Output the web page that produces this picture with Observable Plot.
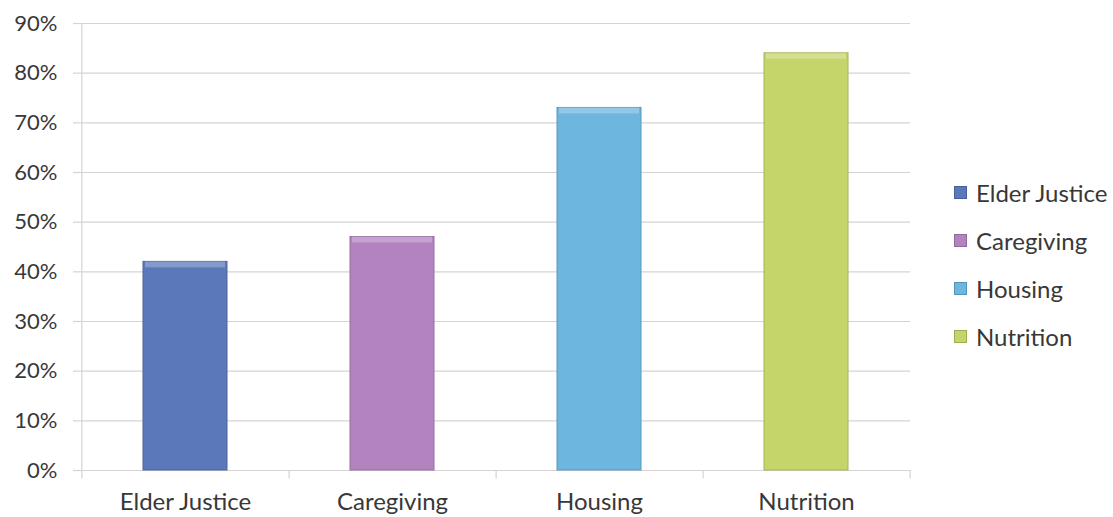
<!DOCTYPE html>
<html>
<head>
<meta charset="utf-8">
<script src="https://cdn.jsdelivr.net/npm/d3@7"></script>
<script src="https://cdn.jsdelivr.net/npm/@observablehq/plot@0.6"></script>
<style>
  html, body { margin: 0; padding: 0; background: #fff; }
  #wrap { position: relative; width: 1113px; height: 517px; overflow: hidden; font-family: Lato, "Open Sans", sans-serif; }
  #legend { position: absolute; left: 954px; top: 168px; }
  .item { display: flex; align-items: center; height: 48px; font-size: 24px; color: #383838; }
  .sw { width: 13px; height: 13px; margin-right: 9px; box-sizing: border-box; }
</style>
</head>
<body>
<div id="wrap"><div id="chart"></div><div id="legend"></div></div>
<script>
const categories = ["Elder Justice", "Caregiving", "Housing", "Nutrition"];
const values = [0.42, 0.47, 0.73, 0.84];
const colors = ["#5b78ba", "#b283bf", "#6cb6df", "#c6d56a"];
const yTicks = [0, 0.1, 0.2, 0.3, 0.4, 0.5, 0.6, 0.7, 0.8, 0.9];

const data = categories.map((c, i) => ({category: c, value: values[i], color: colors[i]}));

const W = 1113, H = 517, ML = 81, MR = 203, MT = 23, MB = 47;
const bw = (W - ML - MR) / categories.length;
const grid = "#d8d2d4";
const textColor = "#383838";

const chart = Plot.plot({
  width: W, height: H,
  marginLeft: ML, marginRight: MR, marginTop: MT, marginBottom: MB,
  style: {fontFamily: "Lato, 'Open Sans', sans-serif", fontSize: "22px", color: textColor, background: "#fff"},
  x: {domain: categories, paddingInner: 0.595, paddingOuter: 0.2975, label: null},
  y: {domain: [0, 0.9], label: null},
  marks: [
    Plot.gridY(yTicks, {stroke: grid, strokeOpacity: 1, strokeWidth: 1.2}),
    Plot.axisY(yTicks, {tickFormat: d => Math.round(d * 100) + "%", tickSize: 8, tickPadding: 16, stroke: grid, strokeWidth: 1.2, fill: textColor, fontSize: 22, label: null}),
    Plot.ruleX([0], {x: () => categories[0], dx: -bw / 2, y1: -0.017, y2: 0.9, stroke: grid, strokeWidth: 1.2}),
    Plot.ruleX(categories, {x: d => d, dx: bw / 2, y1: -0.017, y2: 0, stroke: grid, strokeWidth: 1.2}),
    Plot.barY(data, {x: "category", y: "value", fill: "color", stroke: d => d3.color(d.color).darker(0.5).formatHex(), strokeWidth: 1}),
    Plot.barY(data, {x: "category", y1: d => d.value - 0.012, y2: "value", fill: "#ffffff", fillOpacity: 0.25, insetLeft: 2, insetRight: 2}),
    Plot.axisX({tickSize: 0, tickPadding: 22, fill: textColor, fontSize: 24, label: null})
  ]
});
document.getElementById("chart").appendChild(chart);

const legend = d3.select("#legend");
categories.forEach((c, i) => {
  const it = legend.append("div").attr("class", "item");
  it.append("div").attr("class", "sw").style("background", colors[i]).style("border", "1px solid " + d3.color(colors[i]).darker(0.6).formatHex());
  it.append("span").text(c);
});
</script>
</body>
</html>
